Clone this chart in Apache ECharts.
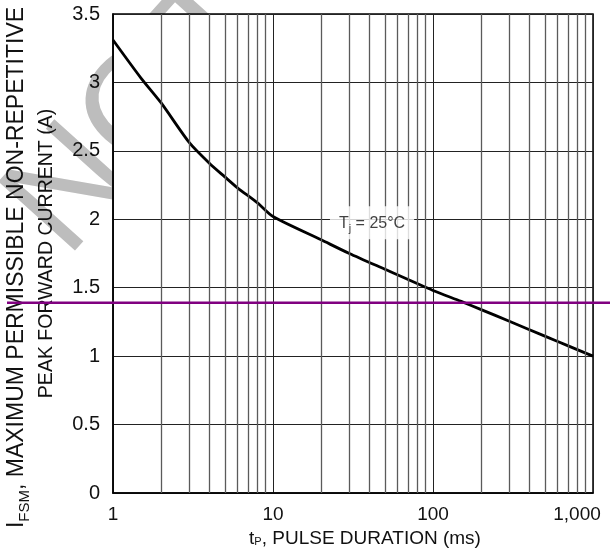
<!DOCTYPE html>
<html><head><meta charset="utf-8">
<script src="https://cdn.jsdelivr.net/npm/echarts@6/dist/echarts.min.js"></script>
<style>html,body{margin:0;padding:0;background:#fff}#c{width:610px;height:548px}</style>
</head><body><div id="c"></div>
<script>
// Data
const pulseMs   = [1, 1.5, 2, 3, 4, 5, 6, 8, 10, 20, 30, 50, 100, 150, 200, 300, 500, 700, 1000];
const currentA  = [3.31, 3.03, 2.85, 2.56, 2.41, 2.31, 2.23, 2.12, 2.02, 1.85, 1.75, 1.635, 1.48, 1.40, 1.34, 1.255, 1.146, 1.075, 1.00];
const minorGridX = [2, 3, 4, 5, 6, 7, 8, 9, 20, 30, 40, 50, 60, 70, 80, 90, 200, 300, 400, 500, 600, 700, 800, 900];
const refLevel = 1.39;             // purple horizontal reference line (A)
const annotationPos = [41.6, 1.975];
const watermarkText = 'NOT';

const FONT = '"Liberation Sans", Arial, Helvetica, sans-serif';
const chart = echarts.init(document.getElementById('c'), null, {renderer: 'canvas'});

const option = {
  animation: false,
  backgroundColor: '#fff',
  textStyle: {fontFamily: FONT},
  grid: {left: 113, right: 17, top: 14, bottom: 55, containLabel: false, outerBoundsMode: 'none',
         show: true, backgroundColor: '#fff', borderColor: '#000', borderWidth: 1.5, z: 0},
  xAxis: {
    type: 'log', logBase: 10, min: 1, max: 1000,
    axisLine: {show: true, lineStyle: {color: '#000', width: 1.5}},
    axisTick: {show: false},
    splitLine: {show: true, lineStyle: {color: '#222', width: 1}},
    axisLabel: {
      color: '#111', fontSize: 19, fontFamily: FONT, margin: 12,
      formatter: v => v === 1000 ? '{r|1,000}' : String(v),
      rich: {r: {fontSize: 19, fontFamily: FONT, color: '#111', padding: [0, 32, 0, 0]}}
    },
    name: '{t|t}{s|P}{n|, PULSE DURATION (ms)}',
    nameLocation: 'middle', nameGap: 31,
    nameTextStyle: {
      rich: {
        t: {fontSize: 19, fontFamily: FONT, color: '#111', padding: [0, 0, 0, 24]},
        s: {fontSize: 11, fontFamily: FONT, color: '#111', verticalAlign: 'bottom', lineHeight: 18},
        n: {fontSize: 19, fontFamily: FONT, color: '#111'}
      }
    }
  },
  yAxis: {
    type: 'value', min: 0, max: 3.5, interval: 0.5,
    axisLine: {show: true, lineStyle: {color: '#000', width: 1.5}},
    axisTick: {show: false},
    splitLine: {show: true, lineStyle: {color: '#222', width: 1}},
    axisLabel: {color: '#111', fontSize: 20, fontFamily: FONT, margin: 13},
    name: '{i|I}{s|FSM}{n|, MAXIMUM PERMISSIBLE NON-REPETITIVE}\n{m|PEAK FORWARD CURRENT (A)}',
    nameLocation: 'middle', nameGap: 51, nameRotate: 90,
    nameTextStyle: {
      rich: {
        i: {fontSize: 23, fontFamily: FONT, color: '#111', lineHeight: 31},
        s: {fontSize: 15, fontFamily: FONT, color: '#111', lineHeight: 22, verticalAlign: 'bottom'},
        n: {fontSize: 23, fontFamily: FONT, color: '#111', lineHeight: 31, padding: [0, 28, 0, 0]},
        m: {fontSize: 19.5, fontFamily: FONT, color: '#111', lineHeight: 30}
      }
    }
  },
  series: [
    {
      type: 'line', name: 'grid', z: 1, silent: true,
      data: pulseMs.map((t, i) => [t, currentA[i]]),
      showSymbol: false, lineStyle: {opacity: 0},
      markLine: {
        silent: true, symbol: 'none', label: {show: false},
        lineStyle: {color: '#5a5a5a', width: 1.3, type: 'solid'},
        data: minorGridX.map(v => ({xAxis: v}))
      }
    },
    {
      type: 'line', name: 'IFSM', z: 3,
      data: pulseMs.map((t, i) => [t, currentA[i]]),
      smooth: 0.25, showSymbol: false,
      lineStyle: {color: '#000', width: 2.8}
    },
    {
      type: 'scatter', z: 6, silent: true,
      data: [annotationPos], symbolSize: 0,
      label: {
        show: true, position: 'inside',
        formatter: '{a|T}{b|j}{a| = 25°C}',
        backgroundColor: '#fff', padding: [6, 9, 5, 9],
        rich: {
          a: {fontSize: 16, fontFamily: FONT, color: '#111'},
          b: {fontSize: 11, fontFamily: FONT, color: '#111', verticalAlign: 'bottom', lineHeight: 22}
        }
      }
    }
  ]
};
chart.setOption(option);

const py = chart.convertToPixel({gridIndex: 0}, [1, refLevel])[1];
chart.setOption({
  graphic: [
    {type: 'text', id: 'wm', x: 36, y: 232, rotation: 48 * Math.PI / 180, z: -10, silent: true,
     style: {text: watermarkText, fontSize: 150, fontFamily: FONT, fill: '#bdbdbd', align: 'left', verticalAlign: 'middle'}},
    {type: 'line', id: 'ref', z: 20, silent: true,
     shape: {x1: 7, y1: py, x2: 610, y2: py},
     style: {stroke: '#800080', lineWidth: 2.5}}
  ]
});
</script></body></html>
